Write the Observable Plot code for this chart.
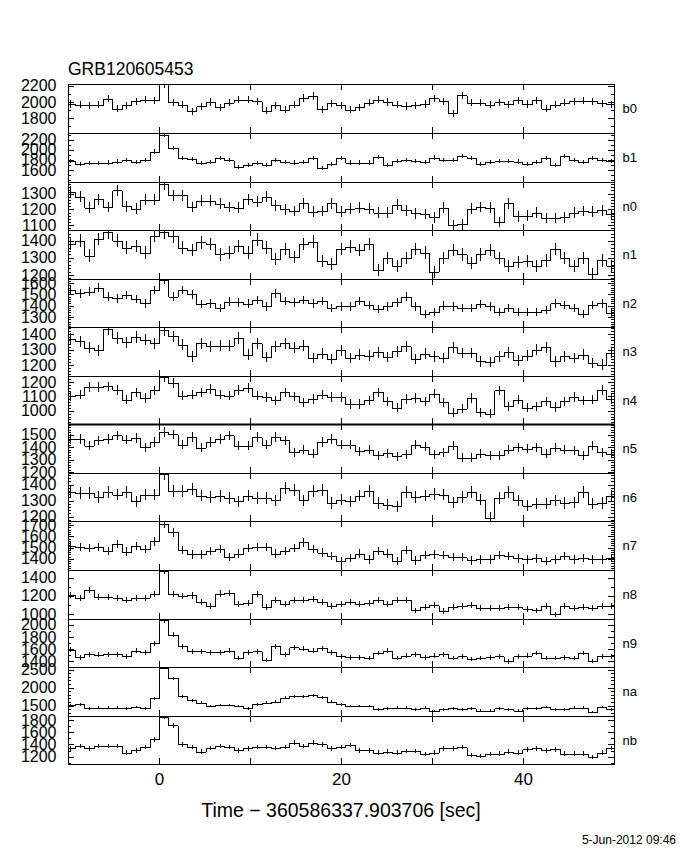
<!DOCTYPE html>
<html>
<head>
<meta charset="utf-8">
<script src="https://cdn.jsdelivr.net/npm/d3@7"></script>
<script src="https://cdn.jsdelivr.net/npm/@observablehq/plot@0.6"></script>
<style>
  body { margin: 0; background: #fff; }
  #chart { position: relative; width: 680px; height: 850px; font-family: "Liberation Sans", Arial, sans-serif; color: #000; overflow: hidden; }
  .abs { position: absolute; line-height: 1; white-space: nowrap; }
</style>
</head>
<body>
<div id="chart">
  <div class="abs" style="left:68px; top:61px; font-size:17.5px;">GRB120605453</div>
  <div class="abs" style="left:0; width:682px; top:801px; font-size:19.5px; text-align:center;">Time − 360586337.903706 [sec]</div>
  <div class="abs" style="right:4px; top:834px; font-size:12px;">5-Jun-2012 09:46</div>
</div>
<script>
// ---- data: count rate per 1.024 s bin, first bin index -10 (t = -10.24 s) ----
const binWidth = 1.024;
const firstBin = -10;

const b0 = [1975,1965,1960,1965,2040,1915,1960,2010,2030,2020,2220,1995,1965,1885,1945,2000,1935,1990,2030,2030,2010,1890,1960,1905,1965,2050,2075,1910,1985,1960,1905,1935,1990,2030,2000,1965,1950,1960,1975,2045,2010,1860,2080,1990,1990,1965,1995,1970,2020,1975,2020,1920,1965,1990,2010,2015,2010,1985,1970];
const b1 = [1775,1710,1735,1735,1745,1765,1790,1750,1790,1960,2290,2030,1830,1815,1730,1750,1840,1790,1665,1700,1740,1700,1790,1750,1745,1750,1840,1640,1710,1830,1745,1745,1745,1860,1690,1770,1790,1770,1750,1845,1800,1800,1870,1830,1710,1760,1770,1770,1765,1720,1760,1830,1690,1880,1800,1750,1840,1790,1780];
const n0 = [1310,1280,1210,1265,1215,1320,1220,1205,1262,1262,1360,1290,1290,1215,1255,1255,1235,1215,1210,1265,1250,1280,1225,1200,1190,1240,1185,1190,1240,1185,1205,1210,1205,1180,1180,1230,1195,1175,1170,1150,1210,1100,1105,1205,1215,1210,1120,1240,1155,1160,1180,1145,1145,1150,1180,1190,1185,1195,1170];
const n1 = [1380,1400,1313,1410,1450,1400,1360,1370,1330,1430,1450,1425,1360,1345,1390,1380,1320,1330,1370,1330,1405,1360,1295,1350,1305,1380,1395,1280,1265,1350,1365,1345,1380,1230,1300,1255,1300,1350,1330,1220,1300,1345,1320,1270,1320,1345,1300,1250,1275,1280,1250,1285,1350,1300,1250,1300,1205,1285,1255];
const n2 = [1538,1509,1523,1558,1480,1465,1494,1460,1420,1538,1630,1480,1538,1500,1416,1420,1378,1436,1430,1418,1450,1393,1509,1442,1430,1450,1420,1442,1378,1393,1393,1442,1407,1372,1393,1430,1480,1393,1326,1343,1401,1393,1378,1378,1416,1393,1343,1378,1343,1343,1343,1364,1420,1407,1378,1326,1407,1420,1335];
const n3 = [1370,1354,1311,1296,1435,1376,1348,1382,1365,1343,1426,1387,1333,1257,1343,1322,1326,1326,1376,1267,1343,1252,1322,1343,1311,1326,1246,1274,1239,1296,1246,1267,1261,1283,1252,1289,1322,1239,1274,1257,1246,1317,1278,1278,1224,1218,1257,1283,1231,1261,1300,1317,1224,1257,1246,1267,1213,1202,1278];
const n4 = [1100,1111,1164,1164,1169,1146,1077,1128,1089,1141,1231,1192,1105,1111,1128,1151,1111,1105,1146,1158,1105,1095,1072,1128,1100,1059,1082,1111,1095,1095,1047,1047,1072,1128,1066,1020,1082,1089,1066,1118,1059,985,1013,1089,990,980,1141,1031,1077,1020,1031,1066,1026,1066,1095,1072,1077,1146,1082];
const n5 = [1467,1467,1413,1454,1467,1494,1459,1475,1400,1440,1521,1502,1421,1480,1395,1440,1467,1494,1413,1413,1480,1421,1480,1454,1360,1379,1346,1440,1467,1421,1421,1368,1379,1333,1352,1325,1341,1421,1405,1341,1360,1413,1314,1314,1346,1333,1333,1379,1400,1387,1400,1346,1395,1379,1373,1333,1413,1360,1346];
const n6 = [1352,1347,1347,1323,1352,1337,1352,1296,1337,1337,1467,1362,1358,1372,1331,1323,1327,1316,1296,1331,1316,1316,1302,1378,1364,1302,1358,1368,1286,1306,1296,1331,1358,1286,1275,1265,1352,1323,1331,1343,1337,1290,1323,1352,1306,1193,1316,1352,1302,1269,1281,1281,1302,1286,1290,1352,1281,1286,1327];
const n7 = [1515,1506,1494,1506,1470,1530,1464,1515,1485,1555,1712,1636,1476,1439,1439,1470,1485,1415,1445,1494,1506,1506,1445,1470,1494,1545,1485,1455,1424,1379,1409,1445,1394,1470,1445,1379,1476,1385,1433,1439,1433,1415,1415,1385,1394,1394,1433,1424,1403,1394,1403,1379,1394,1424,1394,1409,1394,1394,1409];
const n8 = [1207,1181,1264,1189,1189,1181,1151,1178,1181,1219,1480,1219,1196,1204,1133,1084,1226,1234,1106,1121,1219,1077,1151,1106,1151,1159,1170,1133,1084,1106,1133,1114,1121,1159,1106,1159,1159,1039,1077,1095,1032,1077,1084,1095,1069,1069,1069,1077,1077,1058,1039,1084,995,1084,1069,1077,1069,1084,1092];
const n9 = [1589,1464,1518,1507,1518,1518,1480,1573,1551,1698,2080,1834,1644,1562,1562,1551,1551,1573,1453,1551,1562,1426,1644,1518,1627,1605,1573,1616,1551,1480,1464,1464,1453,1535,1573,1453,1496,1518,1464,1496,1518,1453,1480,1442,1453,1464,1480,1398,1480,1496,1535,1453,1453,1464,1453,1535,1409,1480,1480];
const na = [1504,1533,1420,1439,1439,1439,1420,1458,1420,1700,2561,2262,1766,1645,1579,1486,1514,1514,1486,1420,1533,1579,1607,1719,1766,1766,1794,1738,1607,1533,1486,1486,1486,1392,1420,1439,1439,1392,1439,1346,1392,1420,1392,1420,1364,1364,1420,1392,1364,1420,1420,1458,1392,1392,1439,1439,1327,1458,1392];
const nb = [1336,1373,1336,1373,1373,1373,1266,1303,1357,1481,1856,1711,1400,1357,1282,1346,1373,1357,1303,1336,1357,1357,1346,1357,1427,1373,1427,1400,1336,1357,1389,1303,1303,1266,1282,1266,1293,1293,1239,1266,1336,1336,1357,1228,1212,1239,1250,1282,1266,1319,1336,1303,1319,1250,1250,1250,1196,1266,1346];

const detectors = ["b0","b1","n0","n1","n2","n3","n4","n5","n6","n7","n8","n9","na","nb"];
const series = [b0,b1,n0,n1,n2,n3,n4,n5,n6,n7,n8,n9,na,nb];
const yDomains = [[1620,2220],[1360,2330],[1069,1374],[1177,1462],[1212,1635],[1128,1448],[908,1241],[1192,1586],[1173,1472],[1300,1736],[944,1486],[1308,2093],[1211,2575],[1080,1865]];
const yTickLabels = [[1800,2000,2200],[1600,1800,2000,2200],[1100,1200,1300],[1200,1300,1400],[1300,1400,1500,1600],[1200,1300,1400],[1000,1100,1200],[1200,1300,1400,1500],[1200,1300,1400],[1400,1500,1600,1700],[1000,1200,1400],[1400,1600,1800,2000],[1500,2000,2500],[1200,1400,1600,1800]];
const yMinorSteps = [100,100,20,20,20,20,20,20,20,20,100,100,100,100];
const xTicks = [0,10,20,30,40];
const xTickLabels = [0,20,40];
const xDomain = [-10, 50];

// ---- layout ----
const W = 680, mL = 68, mR = 66;
const plotW = W - mL - mR;
const top0 = 84.4, panelStep = 48.56;
const chart = document.getElementById("chart");

detectors.forEach((name, i) => {
  const vals = series[i];
  const bins = vals.map((v, j) => ({
    t0: (firstBin + j) * binWidth,
    t1: (firstBin + j + 1) * binWidth,
    v,
    e: Math.sqrt(v / binWidth)
  }));
  const steps = bins.map(d => ({t: d.t0, v: d.v}));
  steps.push({t: bins[bins.length - 1].t1, v: bins[bins.length - 1].v});

  const top = Math.round(top0 + panelStep * i);
  const h = Math.round(top0 + panelStep * (i + 1)) - top;
  const last = i === detectors.length - 1;
  const dom = yDomains[i];
  const majors = yTickLabels[i];
  const ms = yMinorSteps[i];
  const minors = d3.range(Math.ceil(dom[0] / ms) * ms, dom[1], ms).filter(v => !majors.includes(v));

  const marks = [
    Plot.line(steps, {x: "t", y: "v", curve: "step-after", stroke: "black", strokeWidth: 1, clip: true, shapeRendering: "crispEdges"}),
    Plot.ruleX(bins, {x: d => (d.t0 + d.t1) / 2, y1: d => d.v - d.e, y2: d => d.v + d.e, stroke: "black", strokeWidth: 1, clip: true, shapeRendering: "crispEdges"}),
    Plot.tickY(majors, {y: d => d, insetRight: plotW - 6, stroke: "black", shapeRendering: "crispEdges"}),
    Plot.tickY(minors, {y: d => d, insetRight: plotW - 3, stroke: "black", shapeRendering: "crispEdges"}),
    Plot.tickY(majors, {y: d => d, insetLeft: plotW - 6, stroke: "black", shapeRendering: "crispEdges"}),
    Plot.tickY(minors, {y: d => d, insetLeft: plotW - 3, stroke: "black", shapeRendering: "crispEdges"}),
    Plot.tickX(xTicks, {x: d => d, insetBottom: h - 6, stroke: "black", shapeRendering: "crispEdges"}),
    Plot.tickX(xTicks, {x: d => d, insetTop: h - 6, stroke: "black", shapeRendering: "crispEdges"}),
    Plot.frame({stroke: "black", strokeWidth: 1, shapeRendering: "crispEdges"}),
    Plot.text(majors, {y: d => d, text: d => String(d), frameAnchor: "left", textAnchor: "end", dx: -12, fontSize: 16, fill: "black"}),
    Plot.text([name], {text: d => d, frameAnchor: "right", textAnchor: "start", dx: 8, fontSize: 13, fill: "black"})
  ];
  if (name === "n5") {
    // heavier top border as in the reference
    marks.push(Plot.ruleY([dom[1]], {stroke: "black", strokeWidth: 2}));
  }
  if (last) {
    marks.push(Plot.text(xTickLabels, {x: d => d, text: d => String(d), frameAnchor: "bottom", dy: 20, fontSize: 17, fill: "black"}));
  }

  const svg = Plot.plot({
    width: W,
    height: h + (last ? 32 : 0),
    marginLeft: mL,
    marginRight: mR,
    marginTop: 0,
    marginBottom: last ? 32 : 0,
    x: {domain: xDomain, axis: null},
    y: {domain: dom, axis: null},
    style: {fontFamily: '"Liberation Sans", Arial, sans-serif', background: "none", overflow: "visible", fontSize: "16px", color: "black"},
    marks
  });
  const wrap = document.createElement("div");
  wrap.className = "abs";
  wrap.style.left = "0px";
  wrap.style.top = top + "px";
  wrap.appendChild(svg);
  chart.appendChild(wrap);
});
</script>
</body>
</html>
